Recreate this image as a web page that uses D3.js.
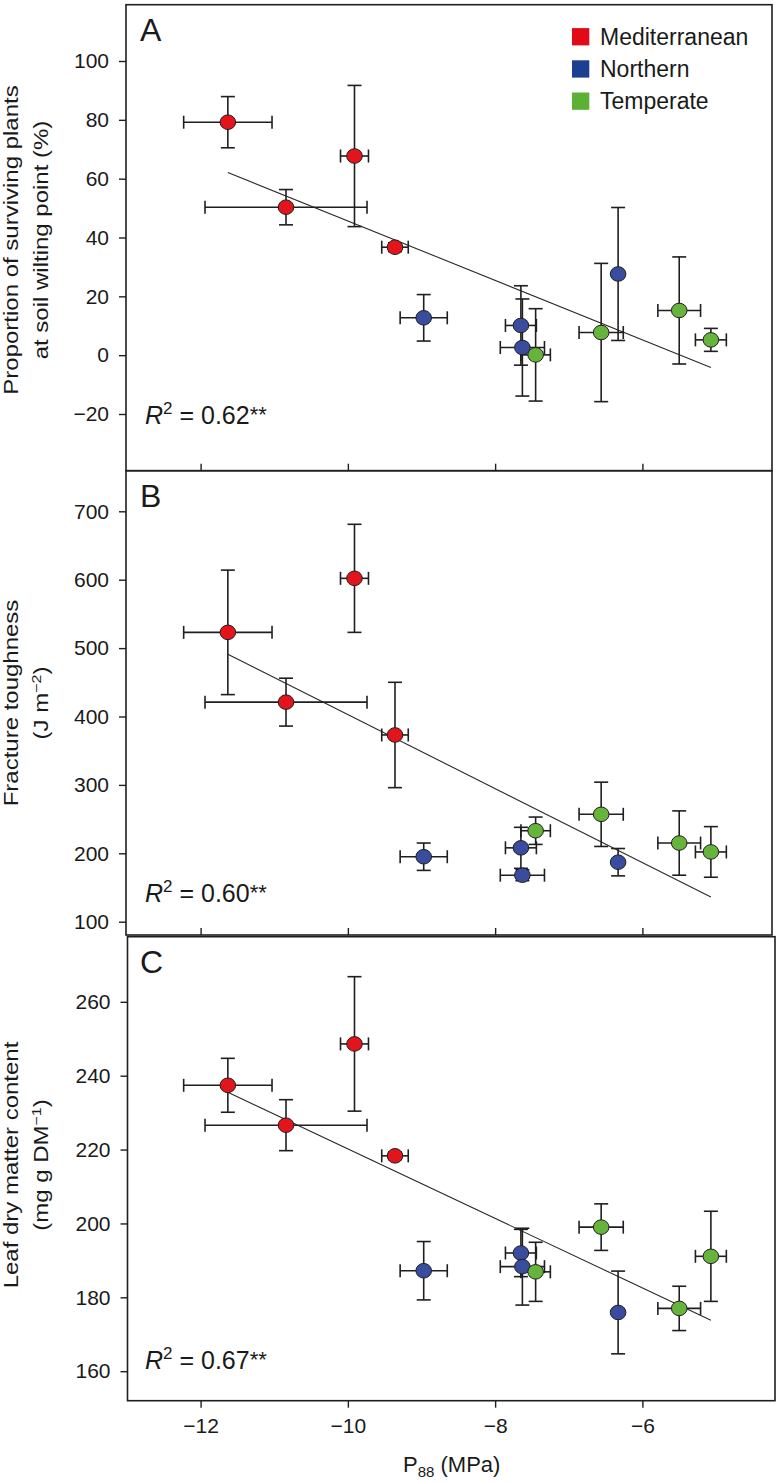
<!DOCTYPE html>
<html><head><meta charset="utf-8">
<script src="https://cdn.jsdelivr.net/npm/d3@7"></script>
<style>
body{margin:0;background:#fff}
svg{display:block}
text{font-family:"Liberation Sans",Arial,Helvetica,sans-serif;fill:#1a1a1a}
</style>
</head><body>
<svg id="chart" width="782" height="1483"></svg>
<script>
// ---------- data ----------
const categories = ["Mediterranean", "Northern", "Temperate"];
const speciesGroup = ["Mediterranean","Mediterranean","Mediterranean","Mediterranean","Northern","Northern","Northern","Temperate","Temperate","Northern","Temperate","Temperate"];
const p88 =      [-11.63, -9.91, -10.84, -9.36, -8.97, -7.65, -7.63, -7.45, -6.56, -6.33, -5.50, -5.07];
const p88Err =   [0.60, 0.19, 1.10, 0.18, 0.32, 0.21, 0.30, 0.20, 0.30, 0.00, 0.29, 0.21];
const survival =    [79.2, 67.7, 50.3, 36.7, 12.7, 10.1, 2.6, 0.1, 7.7, 27.6, 15.2, 5.2];
const survivalErr = [8.7, 24.0, 6.0, 1.5, 7.9, 13.5, 16.5, 15.7, 23.5, 22.6, 18.2, 3.9];
const toughness =    [523, 602, 421, 373, 195, 208, 168, 233, 257, 187, 215, 202];
const toughnessErr = [91, 79, 35, 77, 20, 30, 8, 20, 47, 20, 47, 37];
const ldmc =    [237.4, 248.6, 226.6, 218.3, 187.2, 192.0, 188.3, 186.9, 199.0, 175.9, 177.0, 191.1];
const ldmcErr = [7.3, 18.2, 6.9, 1.0, 7.9, 6.4, 10.4, 8.0, 6.3, 11.2, 6.0, 12.2];
const fitX = [-11.63, -5.07];
const survivalFit = [62.1, -4.2];
const toughnessFit = [491, 136];
const ldmcFit = [235.5, 173.8];
const r2Values = ["0.62", "0.60", "0.67"];
const panelLetters = ["A", "B", "C"];
const survivalTicks = [-20, 0, 20, 40, 60, 80, 100];
const toughnessTicks = [100, 200, 300, 400, 500, 600, 700];
const ldmcTicks = [160, 180, 200, 220, 240, 260];
const p88Ticks = [-12, -10, -8, -6];

// ---------- styles ----------
const FONT = '"Liberation Sans", Arial, Helvetica, sans-serif';
const INK = "#1f1f1f";
const pointColor = d3.scaleOrdinal().domain(categories).range(["#e4141d", "#3a4c9e", "#67b43c"]);
const legendColor = d3.scaleOrdinal().domain(categories).range(["#e30a17", "#1c3f92", "#5cb135"]);

const svg = d3.select("#chart");
const x = d3.scaleLinear().domain([-12, -6]).range([200.6, 642.4]);

const panels = [
  {vals: survival, errs: survivalErr, fit: survivalFit, ticks: survivalTicks,
   dom: [-20, 100], rng: [414, 61], top: 4.7, bottom: 470.7, left: 126, right: 772,
   xLabels: false, r2y: 424, title: ["Proportion of surviving plants", "at soil wilting point (%)"], titleY: 240},
  {vals: toughness, errs: toughnessErr, fit: toughnessFit, ticks: toughnessTicks,
   dom: [100, 700], rng: [921.7, 511.3], top: 470.7, bottom: 935, left: 126, right: 772,
   xLabels: false, r2y: 901.7, title: ["Fracture toughness", "(J m|−2|)"], titleY: 703},
  {vals: ldmc, errs: ldmcErr, fit: ldmcFit, ticks: ldmcTicks,
   dom: [160, 260], rng: [1371.2, 1001.8], top: 936.7, bottom: 1400.7, left: 127.5, right: 775,
   xLabels: true, r2y: 1369, title: ["Leaf dry matter content", "(mg g DM|−1|)"], titleY: 1165}
];

panels.forEach((p, pi) => {
  const y = d3.scaleLinear().domain(p.dom).range(p.rng);
  const g = svg.append("g");

  // frame
  g.append("rect")
    .attr("x", p.left).attr("y", p.top)
    .attr("width", p.right - p.left).attr("height", p.bottom - p.top)
    .attr("fill", "none").attr("stroke", INK).attr("stroke-width", 1.6);

  // y axis
  const ya = g.append("g").attr("transform", `translate(${p.left},0)`)
    .call(d3.axisLeft(y).tickValues(p.ticks).tickSize(7).tickPadding(10).tickFormat(d3.format("d")));
  ya.select(".domain").remove();
  ya.attr("font-size", 21).attr("font-family", FONT);
  ya.selectAll("line").attr("stroke", INK).attr("stroke-width", 1.4);
  ya.selectAll("text").attr("fill", INK);

  // x axis
  const xa = g.append("g").attr("transform", `translate(0,${p.bottom})`)
    .call(d3.axisBottom(x).tickValues(p88Ticks)
      .tickSize(p.xLabels ? 7 : -7).tickPadding(10.3)
      .tickFormat(p.xLabels ? d3.format("d") : ""));
  xa.select(".domain").remove();
  xa.attr("font-size", 21).attr("font-family", FONT);
  xa.selectAll("line").attr("stroke", INK).attr("stroke-width", 1.4);
  xa.selectAll("text").attr("fill", INK);

  // panel letter
  g.append("text").attr("x", 140).attr("y", p.top + 36.3)
    .attr("font-size", 32).text(panelLetters[pi]);

  // R² label
  const r2 = g.append("text").attr("x", 145).attr("y", p.r2y).attr("font-size", 25);
  r2.append("tspan").attr("font-style", "italic").text("R");
  r2.append("tspan").attr("font-size", 17).attr("dy", -10).text("2");
  r2.append("tspan").attr("dy", 10).text(" = " + r2Values[pi]);
  r2.append("tspan").attr("font-size", 22).attr("dy", -2).text("**");

  // y title (two lines, rotated)
  const tg = g.append("g");
  p.title.forEach((line, li) => {
    const t = tg.append("text")
      .attr("transform", `translate(${li === 0 ? 18 : 48},${p.titleY}) rotate(-90) scale(1,0.82)`)
      .attr("text-anchor", "middle").attr("font-size", 24);
    const parts = line.split("|");
    t.append("tspan").text(parts[0]);
    if (parts.length > 1) {
      t.append("tspan").attr("font-size", 16).attr("dy", -9).text(parts[1]);
      t.append("tspan").attr("dy", 9).text(parts[2]);
    }
  });

  // regression line
  g.append("line")
    .attr("x1", x(fitX[0])).attr("y1", y(p.fit[0]))
    .attr("x2", x(fitX[1])).attr("y2", y(p.fit[1]))
    .attr("stroke", "#2a2a2a").attr("stroke-width", 1.1);

  // error bars
  const cap = 7, capH = 6.5;
  const eb = g.append("g").attr("stroke", INK).attr("stroke-width", 1.6).attr("fill", "none");
  p88.forEach((xv, i) => {
    const cx = x(xv), cy = y(p.vals[i]);
    const yTop = y(p.vals[i] + p.errs[i]), yBot = y(p.vals[i] - p.errs[i]);
    eb.append("line").attr("x1", cx).attr("x2", cx).attr("y1", yTop).attr("y2", yBot);
    eb.append("line").attr("x1", cx - cap).attr("x2", cx + cap).attr("y1", yTop).attr("y2", yTop);
    eb.append("line").attr("x1", cx - cap).attr("x2", cx + cap).attr("y1", yBot).attr("y2", yBot);
    if (p88Err[i] > 0) {
      const xl = x(xv - p88Err[i]), xr = x(xv + p88Err[i]);
      eb.append("line").attr("x1", xl).attr("x2", xr).attr("y1", cy).attr("y2", cy);
      eb.append("line").attr("x1", xl).attr("x2", xl).attr("y1", cy - capH).attr("y2", cy + capH);
      eb.append("line").attr("x1", xr).attr("x2", xr).attr("y1", cy - capH).attr("y2", cy + capH);
    }
  });

  // points
  g.append("g").selectAll("ellipse").data(p88).join("ellipse")
    .attr("cx", d => x(d)).attr("cy", (d, i) => y(p.vals[i]))
    .attr("rx", 7.8).attr("ry", 7.3)
    .attr("fill", (d, i) => pointColor(speciesGroup[i]))
    .attr("stroke", INK).attr("stroke-width", 1);
});

// legend
const lg = svg.append("g");
categories.forEach((c, i) => {
  const cy = 36.7 + i * 32.2;
  lg.append("rect").attr("x", 572).attr("y", cy - 8.6).attr("width", 17.3).attr("height", 17.3)
    .attr("fill", legendColor(c));
  lg.append("text").attr("x", 600).attr("y", cy).attr("dy", "0.36em")
    .attr("font-size", 23).text(c);
});

// x axis title
const xt = svg.append("text").attr("x", 451.7).attr("y", 1471.7)
  .attr("text-anchor", "middle").attr("font-size", 22);
xt.append("tspan").text("P");
xt.append("tspan").attr("font-size", 15).attr("dy", 5).text("88");
xt.append("tspan").attr("dy", -5).text(" (MPa)");
</script>
</body></html>
